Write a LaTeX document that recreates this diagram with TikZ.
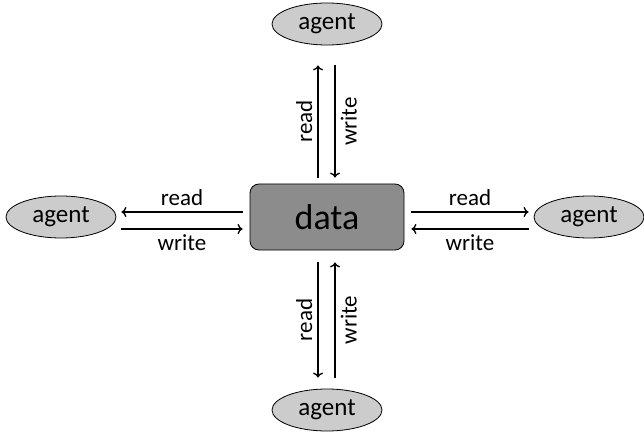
\documentclass[tikz,border=0pt]{standalone}
\usepackage{fontspec}
\setmainfont{Carlito}
\usetikzlibrary{arrows.meta,shapes.geometric}
\begin{document}
\begin{tikzpicture}[x=1pt,y=1pt,
  agentnode/.style={ellipse,draw=black,fill=black!20,line width=0.8pt,minimum width=110pt,minimum height=42pt,inner sep=0pt,font=\fontsize{25}{28}\selectfont},
  datanode/.style={rectangle,rounded corners=9pt,draw=black,fill=black!45,line width=0.8pt,minimum width=154pt,minimum height=66pt,font=\fontsize{36}{40}\selectfont},
  arr/.style={line width=1.5pt,-{To[length=5pt,width=10pt,line width=1.3pt]}},
  lbl/.style={font=\fontsize{23}{26}\selectfont,inner sep=0pt}]
\useasboundingbox (0,0) rectangle (644,434);
\node[datanode] (d) at (327,217) {data};
\node[agentnode] (t) at (327,410) {agent};
\node[agentnode] (b) at (327,24) {agent};
\node[agentnode] (l) at (61,217) {agent};
\node[agentnode] (r) at (589,217) {agent};
% left
\draw[arr] ([xshift=-7,yshift=5]d.west) -- ([xshift=5,yshift=5]l.east) node[pos=0.5,lbl,above=6pt] {read};
\draw[arr] ([xshift=5,yshift=-12]l.east) -- ([xshift=-7,yshift=-12]d.west) node[pos=0.5,lbl,below=5pt] {write};
% right
\draw[arr] ([xshift=7,yshift=5]d.east) -- ([xshift=-5,yshift=5]r.west) node[pos=0.5,lbl,above=6pt] {read};
\draw[arr] ([xshift=-5,yshift=-12]r.west) -- ([xshift=7,yshift=-12]d.east) node[pos=0.5,lbl,below=5pt] {write};
% top
\draw[arr] ([xshift=-9,yshift=6]d.north) -- ([xshift=-9,yshift=-20]t.south) node[pos=0.5,lbl,rotate=90,anchor=south,yshift=5pt] {read};
\draw[arr] ([xshift=8,yshift=-20]t.south) -- ([xshift=8,yshift=6]d.north) node[pos=0.5,lbl,rotate=90,anchor=north,yshift=-5pt] {write};
% bottom
\draw[arr] ([xshift=-9,yshift=-12]d.south) -- ([xshift=-9,yshift=11]b.north) node[pos=0.5,lbl,rotate=90,anchor=south,yshift=5pt] {read};
\draw[arr] ([xshift=8,yshift=11]b.north) -- ([xshift=8,yshift=-12]d.south) node[pos=0.5,lbl,rotate=90,anchor=north,yshift=-5pt] {write};
\end{tikzpicture}
\end{document}
